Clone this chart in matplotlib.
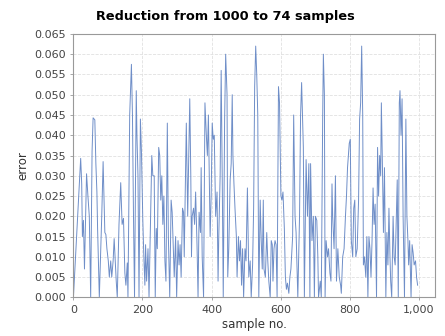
import matplotlib
matplotlib.use("Agg")
import matplotlib.pyplot as plt
from matplotlib.ticker import FuncFormatter, MultipleLocator

# sample index / error pairs
samples = [0, 21, 24, 26, 29, 32, 38, 42, 46, 50, 54, 57, 62, 65, 68, 70, 75,
           82, 86, 91, 94, 97, 101, 104, 108, 111, 115, 118, 121, 124, 127,
           132, 137, 141, 145, 149, 152, 156, 158, 163, 168, 171, 174, 177,
           182, 184, 187, 190, 194, 197, 201, 204, 207, 209, 212, 216, 219,
           223, 227, 230, 234, 237, 240, 243, 247, 250, 253, 256, 259, 262,
           265, 268, 272, 275, 279, 283, 286, 289, 292, 296, 299, 303, 306,
           309, 312, 316, 319, 321, 325, 327, 331, 334, 337, 340, 342, 344,
           348, 351, 354, 358, 361, 364, 368, 370, 373, 377, 381, 385, 388,
           391, 396, 399, 402, 405, 408, 412, 416, 419, 421, 425, 428, 431,
           434, 438, 441, 445, 447, 450, 454, 457, 460, 462, 465, 468, 472,
           474, 478, 481, 484, 487, 490, 493, 497, 500, 504, 508, 512, 515,
           519, 522, 525, 528, 531, 534, 537, 541, 544, 547, 550, 552, 556,
           560, 563, 566, 570, 573, 576, 578, 581, 584, 587, 590, 594, 597,
           601, 604, 607, 611, 614, 617, 620, 624, 627, 630, 635, 638, 642,
           645, 650, 655, 658, 661, 666, 669, 674, 678, 682, 685, 687, 691,
           695, 698, 701, 705, 708, 710, 715, 718, 722, 724, 727, 729, 732,
           736, 739, 743, 746, 749, 751, 755, 759, 762, 766, 770, 774, 776,
           780, 784, 788, 791, 794, 799, 802, 805, 809, 812, 815, 818, 822,
           826, 829, 832, 835, 838, 840, 843, 847, 850, 853, 856, 859, 862,
           865, 868, 871, 874, 878, 881, 884, 887, 890, 892, 895, 898, 901,
           905, 908, 911, 914, 917, 919, 922, 926, 929, 932, 935, 938, 941,
           944, 946, 949, 952, 955, 959, 963, 966, 969, 971, 974, 978, 981,
           984, 987, 991, 994, 997]
errors = [0.0, 0.0343, 0.028, 0.015, 0.019, 0.007, 0.0305, 0.025, 0.020, 0.0,
          0.036, 0.0443, 0.0438, 0.033, 0.026, 0.017, 0.0,
          0.020, 0.0335, 0.016, 0.0155, 0.012, 0.009, 0.005, 0.009, 0.005,
          0.009, 0.0145, 0.009, 0.004, 0.0,
          0.018, 0.0283, 0.018, 0.0195, 0.006, 0.003, 0.0085, 0.0, 0.045,
          0.0575, 0.045, 0.020, 0.0,
          0.051, 0.040, 0.030, 0.0, 0.044, 0.036, 0.019, 0.010, 0.003, 0.013,
          0.004, 0.012, 0.0,
          0.017, 0.035, 0.030, 0.030, 0.0, 0.017, 0.012, 0.037, 0.035, 0.024,
          0.030, 0.018, 0.025,
          0.009, 0.004, 0.043, 0.015, 0.0, 0.024, 0.021, 0.013, 0.005, 0.015,
          0.0, 0.014, 0.008,
          0.013, 0.005, 0.022, 0.021, 0.010, 0.031, 0.043, 0.020, 0.035,
          0.049, 0.030, 0.010, 0.020,
          0.022, 0.018, 0.026, 0.013, 0.0, 0.021, 0.016, 0.032, 0.010, 0.0,
          0.048, 0.040, 0.035,
          0.045, 0.015, 0.025, 0.043, 0.039, 0.040, 0.020, 0.026, 0.004,
          0.015, 0.030, 0.056, 0.030,
          0.0, 0.044, 0.060, 0.050, 0.005, 0.012, 0.029, 0.033, 0.050, 0.035,
          0.028, 0.022, 0.015,
          0.005, 0.015, 0.009, 0.014, 0.003, 0.012, 0.0, 0.012, 0.009, 0.027,
          0.005, 0.009, 0.0,
          0.008, 0.022, 0.052, 0.062, 0.055, 0.045, 0.0, 0.024, 0.014, 0.007,
          0.024, 0.007, 0.005,
          0.016, 0.009, 0.004, 0.0, 0.014, 0.013, 0.004, 0.012, 0.014, 0.013,
          0.0, 0.052, 0.048,
          0.025, 0.024, 0.026, 0.017, 0.005, 0.002, 0.0035, 0.001, 0.005,
          0.007, 0.015, 0.045, 0.020,
          0.016, 0.0, 0.020, 0.045, 0.053, 0.037, 0.0, 0.034, 0.020, 0.033,
          0.0, 0.033, 0.014,
          0.020, 0.0, 0.020, 0.019, 0.010, 0.0, 0.004, 0.0, 0.044, 0.060,
          0.050, 0.0, 0.014,
          0.010, 0.012, 0.006, 0.004, 0.028, 0.020, 0.012, 0.030, 0.004,
          0.012, 0.005, 0.003, 0.001,
          0.010, 0.012, 0.020, 0.025, 0.032, 0.038, 0.039, 0.014, 0.010,
          0.022, 0.024, 0.010, 0.012,
          0.024, 0.044, 0.048, 0.062, 0.045, 0.008, 0.010, 0.005, 0.015, 0.0,
          0.015, 0.012, 0.005,
          0.014, 0.027, 0.018, 0.023, 0.0, 0.037, 0.025, 0.035, 0.030, 0.048,
          0.033, 0.016, 0.032,
          0.0, 0.016, 0.008, 0.022, 0.010, 0.004, 0.0, 0.020, 0.010, 0.008,
          0.018, 0.029, 0.0,
          0.048, 0.051, 0.040, 0.049, 0.020, 0.0, 0.044, 0.020, 0.014, 0.008,
          0.014, 0.0, 0.013,
          0.011, 0.008, 0.009, 0.005, 0.003]

fig = plt.figure(figsize=(4.45, 3.36), dpi=100)
ax = fig.add_axes([0.165, 0.115, 0.813, 0.784])

ax.plot(samples, errors, color="#5f82c2", lw=0.7, alpha=0.9)

ax.set_xlim(0, 1048)
ax.set_ylim(0, 0.065)
ax.xaxis.set_major_locator(MultipleLocator(200))
ax.yaxis.set_major_locator(MultipleLocator(0.005))
ax.xaxis.set_major_formatter(FuncFormatter(lambda v, p: f"{int(v):,}"))
ax.yaxis.set_major_formatter(FuncFormatter(lambda v, p: f"{v:.3f}"))

ax.grid(True, color="#e0e0e0", linestyle="--", linewidth=0.6)
for s in ax.spines.values():
    s.set_color("#999999")
    s.set_linewidth(0.8)
ax.tick_params(labelsize=8, length=2, width=0.6, colors="#999999",
               labelcolor="#444444")

ax.set_xlabel("sample no.", fontsize=8.5, color="#333333", labelpad=2)
ax.set_ylabel("error", fontsize=8.5, color="#333333", labelpad=3)
fig.suptitle("Reduction from 1000 to 74 samples", fontsize=9.3,
             fontweight="bold", x=0.506, y=0.97)

fig.savefig("out.png", dpi=100)
